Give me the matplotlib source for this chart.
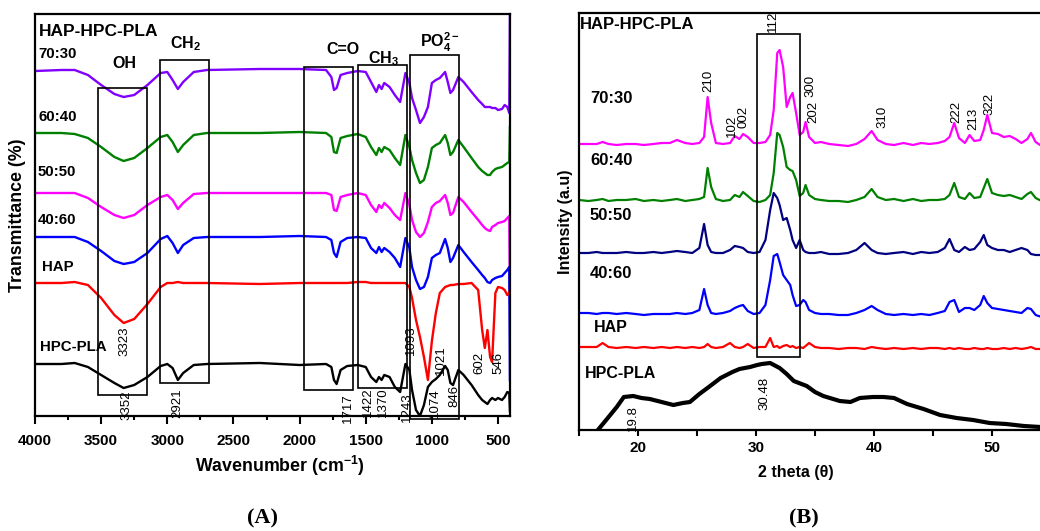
import numpy as np
import matplotlib.pyplot as plt
from matplotlib.patches import Rectangle
from matplotlib.ticker import MultipleLocator, NullLocator

plt.rcParams["font.family"] = ["Liberation Sans", "DejaVu Sans"]
plt.rcParams["font.weight"] = "bold"
plt.rcParams["axes.labelweight"] = "bold"
plt.rcParams["mathtext.fontset"] = "custom"
plt.rcParams["mathtext.rm"] = "Liberation Sans:bold"
plt.rcParams["mathtext.it"] = "Liberation Sans:bold"
plt.rcParams["mathtext.bf"] = "Liberation Sans:bold"
plt.rcParams["mathtext.default"] = "rm"

# -----------------------------------------------------------------------------
# (A) FTIR spectra, stacked (arbitrary transmittance units)
# -----------------------------------------------------------------------------
wavenumber = [4000, 3800, 3700, 3600, 3500, 3400, 3330, 3250, 3150, 3050,
              3000, 2960, 2920, 2880, 2800, 2700, 2300, 2000, 1800, 1760,
              1740, 1720, 1690, 1640, 1560, 1500, 1460, 1420, 1400, 1380,
              1360, 1320, 1280, 1240, 1200, 1170, 1150, 1120, 1090, 1060,
              1030, 1000, 970, 940, 900, 880, 860, 840, 800, 760,
              700, 650, 620, 600, 580, 560, 545, 520, 500, 470,
              450, 430, 415, 410]

ftir_70_30 = [345, 346, 346, 341, 331, 322, 319, 321, 331, 343,
              344, 336, 327, 334, 344, 346, 347, 347, 346, 339,
              326, 328, 341, 343, 345, 344, 334, 324, 331, 327,
              333, 329, 321, 314, 343, 333, 318, 306, 293, 299,
              309, 333, 336, 338, 344, 334, 323, 326, 339, 334,
              324, 316, 312, 309, 309, 309, 308, 308, 306, 307,
              311, 309, 303, 405]
ftir_60_40 = [283, 283, 282, 278, 269, 259, 255, 258, 268, 279,
              281, 274, 264, 271, 281, 283, 283, 284, 283, 279,
              264, 263, 278, 280, 282, 279, 269, 261, 268, 264,
              269, 266, 258, 251, 281, 269, 256, 243, 233, 236,
              249, 268, 271, 273, 281, 273, 261, 264, 276, 269,
              258, 249, 245, 243, 241, 241, 244, 247, 248, 249,
              251, 253, 254, 289]
ftir_50_50 = [223, 223, 223, 218, 209, 201, 198, 201, 211, 219,
              221, 216, 207, 213, 222, 223, 223, 223, 223, 221,
              206, 205, 219, 221, 223, 221, 211, 204, 211, 208,
              213, 208, 201, 196, 223, 211, 196, 184, 179, 183,
              194, 209, 213, 215, 221, 213, 201, 203, 219, 214,
              204, 196, 191, 188, 186, 185, 189, 191, 193, 194,
              195, 198, 200, 113]
ftir_40_60 = [179, 179, 179, 174, 165, 155, 152, 154, 163, 177,
              180, 173, 163, 171, 178, 179, 179, 180, 179, 176,
              163, 159, 174, 178, 179, 178, 168, 163, 169, 164,
              168, 164, 158, 149, 178, 168, 149, 136, 127, 129,
              139, 158, 161, 163, 177, 168, 154, 158, 171, 164,
              154, 146, 141, 138, 134, 133, 136, 138, 139, 140,
              143, 146, 149, 36]
ftir_hap = [133, 133, 134, 131, 118, 101, 93, 97, 112, 129,
            133, 133, 134, 133, 133, 133, 132, 133, 133, 133,
            133, 133, 133, 133, 134, 134, 133, 133, 133, 133,
            133, 133, 133, 133, 133, 129, 118, 96, 79, 59,
            36, 75, 103, 123, 129, 130, 131, 131, 132, 132,
            133, 126, 86, 68, 86, 59, 54, 123, 129, 128,
            126, 121, 123, 126]
ftir_hpc_pla = [52, 52, 53, 49, 41, 33, 28, 31, 39, 50,
                52, 48, 36, 43, 51, 52, 53, 51, 52, 49,
                36, 32, 46, 50, 51, 49, 39, 34, 39, 36,
                41, 39, 29, 24, 52, 46, 26, 6, 0, 11,
                29, 34, 37, 41, 50, 46, 33, 31, 46, 41,
                31, 21, 16, 14, 12, 16, 18, 16, 18, 16,
                19, 24, 23, 5]

ftir_series = [ftir_70_30, ftir_60_40, ftir_50_50, ftir_40_60, ftir_hap, ftir_hpc_pla]
ftir_colors = ["#8000ff", "#008000", "#ff00ff", "#0000ff", "#ff0000", "#000000"]
ftir_names = ["70:30", "60:40", "50:50", "40:60", "HAP", "HPC-PLA"]
ftir_name_pos = [(3977, 362), (3970, 299), (3977, 244), (3977, 196), (3947, 149), (3962, 69)]

# band boxes: (wn_left, wn_right, bottom, top)
ftir_boxes = [(3526, 3156, 21, 328), (3055, 2682, 33, 356), (1966, 1598, 26, 349),
              (1560, 1190, 28, 351), (1165, 792, -3, 361)]
band_labels = ["OH", "CH$_2$", "C=O", "CH$_3$", "PO$_4^{2-}$"]
band_pos = [(3327, 352), (2859, 368), (1672, 362), (1369, 353), (942, 368)]

peak_labels = ["3323", "3352", "2921", "1717", "1422", "1370", "1243",
               "1093", "1074", "1021", "846", "602", "546"]
peak_pos = [(3327, 89), (3312, 26), (2927, 28), (1634, 23), (1483, 29), (1369, 29),
            (1186, 24), (1158, 91), (976, 28), (933, 71), (833, 31), (644, 64), (498, 64)]

# -----------------------------------------------------------------------------
# (B) XRD patterns, stacked (arbitrary intensity units)
# -----------------------------------------------------------------------------
two_theta = [15.0, 15.8, 16.5, 17.0, 17.5, 18.2, 19.0, 19.8, 20.5, 21.3,
             22.0, 22.7, 23.3, 24.0, 24.6, 25.2, 25.6, 25.9, 26.2, 26.6,
             27.2, 27.8, 28.2, 28.6, 28.9, 29.3, 29.8, 30.3, 30.8, 31.2,
             31.5, 31.8, 32.0, 32.3, 32.6, 32.9, 33.1, 33.4, 33.7, 34.0,
             34.2, 34.5, 35.0, 35.5, 36.2, 37.0, 37.8, 38.5, 39.2, 39.8,
             40.3, 41.0, 41.7, 42.5, 43.3, 44.0, 44.7, 45.4, 46.0, 46.4,
             46.8, 47.2, 47.7, 48.1, 48.5, 49.0, 49.3, 49.6, 50.0, 50.5,
             51.0, 51.5, 52.0, 52.5, 53.0, 53.3, 53.7, 54.2, 55.0]

xrd_70_30 = [286, 286, 286, 288, 286, 285, 286, 286, 285, 286,
             287, 287, 290, 287, 286, 287, 293, 333, 307, 287,
             286, 287, 294, 291, 296, 293, 287, 287, 288, 295,
             320, 377, 380, 363, 323, 333, 337, 317, 295, 298,
             308, 293, 287, 288, 286, 285, 284, 286, 291, 299,
             290, 286, 285, 287, 285, 287, 286, 287, 289, 293,
             307, 292, 287, 295, 289, 290, 300, 315, 297, 296,
             293, 294, 291, 287, 291, 297, 288, 284, 285]
xrd_60_40 = [230, 229, 230, 231, 229, 230, 230, 231, 229, 230,
             229, 230, 231, 229, 230, 231, 233, 262, 243, 231,
             229, 230, 235, 233, 238, 234, 229, 228, 230, 235,
             257, 297, 295, 283, 263, 260, 259, 250, 234, 237,
             245, 235, 231, 230, 229, 229, 228, 230, 233, 241,
             233, 230, 231, 229, 231, 229, 230, 230, 231, 235,
             247, 233, 231, 237, 232, 233, 242, 251, 237, 235,
             234, 235, 233, 231, 236, 238, 232, 229, 230]
xrd_50_50 = [177, 177, 178, 177, 177, 177, 178, 177, 177, 178,
             177, 178, 179, 178, 177, 182, 206, 185, 178, 177,
             177, 180, 184, 183, 182, 178, 177, 178, 190, 220,
             237, 232, 225, 210, 212, 200, 190, 182, 190, 180,
             178, 177, 177, 178, 176, 176, 177, 180, 187, 180,
             177, 176, 177, 178, 176, 178, 177, 178, 182, 191,
             180, 178, 183, 180, 181, 188, 195, 185, 182, 180,
             180, 178, 180, 182, 180, 176, 175, 175, 175]
xrd_40_60 = [117, 117, 116, 117, 117, 116, 117, 116, 115, 116,
             116, 116, 117, 116, 117, 120, 141, 125, 117, 116,
             117, 119, 122, 124, 125, 119, 116, 117, 125, 150,
             174, 176, 168, 155, 150, 145, 135, 124, 125, 130,
             128, 120, 117, 116, 116, 115, 115, 117, 120, 124,
             120, 116, 115, 116, 115, 116, 115, 117, 119, 128,
             130, 118, 122, 122, 120, 125, 134, 127, 122, 121,
             120, 119, 118, 117, 122, 121, 115, 113, 113]
xrd_hap = [83, 83, 83, 87, 83, 82, 83, 82, 83, 82,
           83, 82, 83, 82, 83, 82, 83, 86, 83, 82,
           83, 87, 83, 82, 83, 86, 82, 83, 83, 92,
           83, 84, 82, 84, 85, 83, 84, 82, 83, 82,
           84, 87, 83, 82, 82, 81, 82, 82, 81, 83,
           82, 81, 82, 81, 82, 81, 82, 82, 81, 82,
           81, 82, 81, 81, 82, 81, 81, 82, 81, 81,
           82, 81, 82, 81, 82, 83, 81, 81, 81]

hpc_two_theta = [16.6, 17.3, 18.2, 18.8, 19.6, 20.3, 21.0, 22.0, 23.0, 23.8,
                 24.4, 25.2, 26.0, 27.0, 28.0, 28.6, 29.5, 30.1, 30.5, 31.2,
                 32.0, 32.6, 33.2, 34.3, 35.0, 35.7, 37.1, 38.0, 38.8, 39.9,
                 40.8, 41.7, 42.8, 44.2, 45.6, 47.0, 48.4, 49.8, 51.2, 52.7,
                 54.1, 55.5]
xrd_hpc_pla = [0, 10, 23, 33, 34, 32, 31, 28, 25, 27,
               28, 36, 43, 52, 58, 61, 63, 65, 66, 67,
               62, 56, 49, 44, 38, 34, 29, 28, 32, 33,
               33, 32, 26, 21, 15, 12, 10, 7, 6, 4,
               3, 2]

xrd_series = [xrd_70_30, xrd_60_40, xrd_50_50, xrd_40_60, xrd_hap]
xrd_colors = ["#ff00ff", "#008000", "#000080", "#0000ff", "#ff0000"]
xrd_names = ["70:30", "60:40", "50:50", "40:60", "HAP", "HPC-PLA"]
xrd_name_pos = [(15.93, 332), (15.93, 270), (15.93, 215), (15.93, 156), (16.27, 103), (15.5, 56)]

xrd_box = (30.11, 33.73, 73, 396)
miller_labels = ["210", "102", "002", "112", "300", "202", "310", "222", "213", "322"]
miller_pos = [(25.93, 338), (27.97, 293), (28.9, 302), (31.44, 398), (34.58, 333),
              (34.83, 307), (40.68, 302), (46.95, 307), (48.39, 300), (49.75, 315)]
hpc_peak_labels = ["19.8", "30.48"]
hpc_peak_pos = [(19.58, 25), (30.68, 53)]

# =============================================================================
# FIGURE
# =============================================================================
fig = plt.figure(figsize=(10.4, 5.31), dpi=100)

axA = fig.add_axes([35 / 1040, 115 / 531, 475 / 1040, 402 / 531])
axB = fig.add_axes([579 / 1040, 101 / 531, 483.8 / 1040, 417 / 531])

# ---------------------------- panel A ---------------------------------------
for y, c in zip(ftir_series, ftir_colors):
    axA.plot(wavenumber, y, color=c, lw=1.7)

for (w0, w1, b, t) in ftir_boxes:
    axA.add_patch(Rectangle((w1, b), w0 - w1, t - b, fill=False,
                            edgecolor="black", lw=1.2, clip_on=False, zorder=3))

axA.text(3970, 384, "HAP-HPC-PLA", fontsize=12.5, ha="left", va="center")
for name, (x, y) in zip(ftir_names, ftir_name_pos):
    axA.text(x, y, name, fontsize=10.8, ha="left", va="center")
for lab, (x, y) in zip(band_labels, band_pos):
    axA.text(x, y, lab, fontsize=11.5, ha="center",
             va="center" if lab == "OH" else "baseline")
for lab, (x, y) in zip(peak_labels, peak_pos):
    axA.text(x, y, lab, fontsize=9.5, fontweight="normal", rotation=90,
             ha="center", va="top", clip_on=False)

axA.set_xlim(4000, 409.5)
axA.set_ylim(0, 402)
axA.xaxis.set_major_locator(MultipleLocator(500))
axA.xaxis.set_minor_locator(MultipleLocator(250))
axA.yaxis.set_major_locator(NullLocator())
axA.tick_params(axis="x", which="major", direction="out", length=6, width=1.5,
                labelsize=11, pad=7)
axA.tick_params(axis="x", which="minor", direction="out", length=3, width=1.5)
for sp in axA.spines.values():
    sp.set_linewidth(1.6)
axA.set_xlabel("Wavenumber (cm$^{-1}$)", fontsize=12.8, fontweight="bold")
axA.xaxis.set_label_coords(0.516, -0.095)
axA.set_ylabel("Transmittance (%)", fontsize=12.8, fontweight="bold")
axA.yaxis.set_label_coords(-0.018, 0.5)

# ---------------------------- panel B ---------------------------------------
for y, c in zip(xrd_series, xrd_colors):
    axB.plot(two_theta, y, color=c, lw=1.6)
axB.plot(hpc_two_theta, xrd_hpc_pla, color="black", lw=3)

x0, x1, b, t = xrd_box
axB.add_patch(Rectangle((x0, b), x1 - x0, t - b, fill=False,
                        edgecolor="black", lw=1.2, zorder=3))

axB.text(15.08, 406, "HAP-HPC-PLA", fontsize=12, ha="left", va="center")
for name, (x, y) in zip(xrd_names, xrd_name_pos):
    axB.text(x, y, name, fontsize=12 if name[0].isdigit() else 11.5,
             ha="left", va="center")
for lab, (x, y) in zip(miller_labels, miller_pos):
    axB.text(x, y, lab, fontsize=9.5, fontweight="normal", rotation=90,
             ha="center", va="bottom")
for lab, (x, y) in zip(hpc_peak_labels, hpc_peak_pos):
    axB.text(x, y, lab, fontsize=9.5, fontweight="normal", rotation=90,
             ha="center", va="top")

axB.set_xlim(15, 56)
axB.set_ylim(0, 417)
axB.xaxis.set_major_locator(MultipleLocator(10))
axB.xaxis.set_minor_locator(MultipleLocator(5))
axB.yaxis.set_major_locator(NullLocator())
axB.tick_params(axis="x", which="major", direction="out", length=4, width=1.5,
                labelsize=11, pad=4)
axB.tick_params(axis="x", which="minor", direction="out", length=4, width=1.5)
for sp in axB.spines.values():
    sp.set_linewidth(1.6)
axB.set_xlabel("2 theta (θ)", fontsize=11.5, fontweight="bold")
axB.xaxis.set_label_coords(0.4485, -0.085)
axB.set_ylabel("Intensity (a.u)", fontsize=11.5, fontweight="bold")
axB.yaxis.set_label_coords(-0.012, 0.5)

# panel letters
fig.text(262 / 1040, 1 - 518 / 531, "(A)", fontsize=16, fontweight="bold",
         family=["Liberation Serif", "DejaVu Serif"], ha="center", va="center")
fig.text(804 / 1040, 1 - 518 / 531, "(B)", fontsize=16, fontweight="bold",
         family=["Liberation Serif", "DejaVu Serif"], ha="center", va="center")

fig.savefig("out.png", dpi=100)
